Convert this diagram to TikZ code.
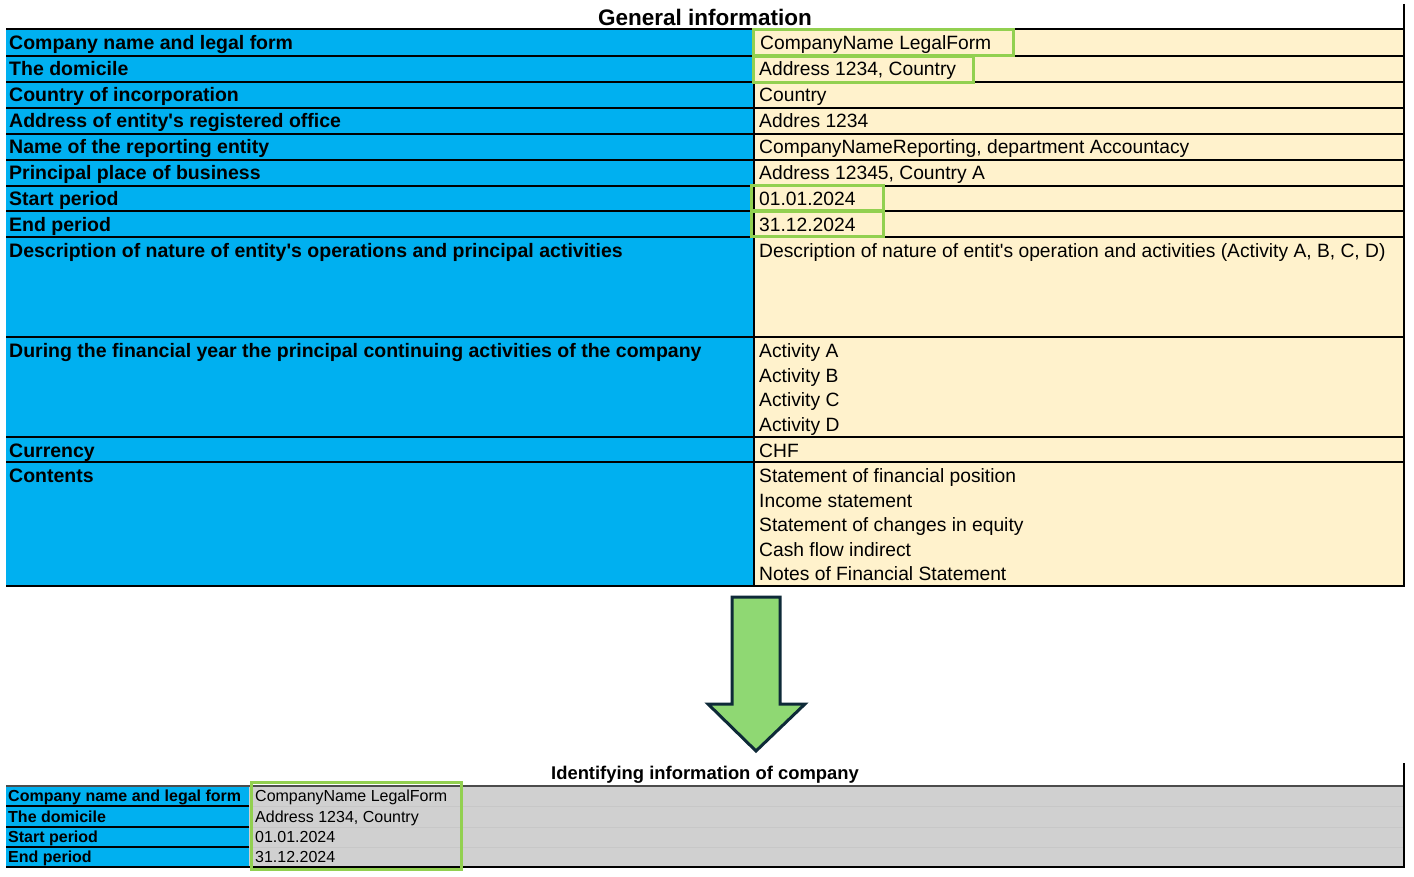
\documentclass[tikz,border=0pt]{standalone}
\usepackage{fontspec}
\setmainfont{Liberation Sans}[Ligatures=TeXOff]
\definecolor{cblue}{HTML}{00B0F0}
\definecolor{ccream}{HTML}{FFF2CC}
\definecolor{cgray}{HTML}{D0D0D0}
\definecolor{cgreen}{HTML}{92D050}
\definecolor{afill}{HTML}{8FD873}
\definecolor{aline}{HTML}{0E2A38}
\begin{document}
\begin{tikzpicture}[x=1pt,y=-1pt,
  grid/.style={draw=black,line width=2pt},
  lbl/.style={anchor=base west,inner sep=0pt,font=\bfseries\fontsize{19.5}{22}\selectfont},
  val/.style={anchor=base west,inner sep=0pt,font=\fontsize{19.25}{22}\selectfont},
  slbl/.style={anchor=base west,inner sep=0pt,font=\bfseries\fontsize{16}{18}\selectfont},
  sval/.style={anchor=base west,inner sep=0pt,font=\fontsize{16}{18}\selectfont},
  ttl/.style={inner sep=0pt,font=\bfseries\fontsize{22.5}{26}\selectfont},
  sttl/.style={inner sep=0pt,font=\bfseries\fontsize{18.4}{21}\selectfont},
  hl/.style={draw=cgreen,line width=3pt}]
\useasboundingbox (0,0) rectangle (1414,877);
\fill[white] (0,0) rectangle (1414,877);
% ---------- top table ----------
\node[ttl] (title) at (705,17) {General information};
\fill[cblue] (6,29) rectangle (754,586);
\fill[ccream] (754,29) rectangle (1404,586);
\foreach \y in {29,56,82,108,134,160,186,211,237,337,437,462,586}
  \draw[grid] (6,\y) -- (1405,\y);
\draw[grid] (754,29) -- (754,586);
\draw[grid] (1404,4) -- (1404,587);
% labels
\node[lbl] (l1) at (9,49.5) {Company name and legal form};
\node[lbl] (l2) at (9,76) {The domicile};
\node[lbl] (l3) at (9,102) {Country of incorporation};
\node[lbl] (l4) at (9,128) {Address of entity's registered office};
\node[lbl] (l5) at (9,154) {Name of the reporting entity};
\node[lbl] (l6) at (9,180) {Principal place of business};
\node[lbl] (l7) at (9,205.5) {Start period};
\node[lbl] (l8) at (9,231.5) {End period};
\node[lbl] (l9) at (9,257.5) {Description of nature of entity's operations and principal activities};
\node[lbl] (l10) at (9,357.5) {During the financial year the principal continuing activities of the company};
\node[lbl] (l11) at (9,457) {Currency};
\node[lbl] (l12) at (9,482.5) {Contents};
% values
\node[val] (v1) at (760,49.5) {CompanyName LegalForm};
\node[val] (v2) at (759,76) {Address 1234, Country};
\node[val] (v3) at (759,102) {Country};
\node[val] (v4) at (759,128) {Addres 1234};
\node[val] (v5) at (759,154) {CompanyNameReporting, department Accountacy};
\node[val] (v6) at (759,180) {Address 12345, Country A};
\node[val] (v7) at (759,205.5) {01.01.2024};
\node[val] (v8) at (759,231.5) {31.12.2024};
\node[val] (v9) at (759,257.5) {Description of nature of entit's operation and activities (Activity A, B, C, D)};
\node[val] (v10a) at (759,357.5) {Activity A};
\node[val] (v10b) at (759,382) {Activity B};
\node[val] (v10c) at (759,406.5) {Activity C};
\node[val] (v10d) at (759,431) {Activity D};
\node[val] (v11) at (759,457) {CHF};
\node[val] (v12a) at (759,482.5) {Statement of financial position};
\node[val] (v12b) at (759,507) {Income statement};
\node[val] (v12c) at (759,531.5) {Statement of changes in equity};
\node[val] (v12d) at (759,556) {Cash flow indirect};
\node[val] (v12e) at (759,580.5) {Notes of Financial Statement};
% highlights
\draw[hl] (753,30) rectangle (1013,56);
\draw[hl] (753,57) rectangle (973,83);
\draw[hl] (751,186) rectangle (883,211);
\draw[hl] (751,212) rectangle (883,237);
% ---------- arrow ----------
\draw[fill=afill,draw=aline,line width=3pt,line join=miter]
  (732,597) -- (780,597) -- (780,704) -- (805,704) -- (756,751) -- (708,704) -- (732,704) -- cycle;
% ---------- bottom table ----------
\node[sttl] (title2) at (705,774.5) {Identifying information of company};
\fill[cblue] (6,786) rectangle (249,867);
\fill[cgray] (249,786) rectangle (1404,867);
\foreach \y in {806,827,847} {
  \draw[black,line width=1.5pt] (6,\y) -- (249,\y);
  \draw[black!22,line width=1pt] (249,\y) -- (1404,\y);
}
\draw[black!70,line width=1.5pt] (6,786) -- (1405,786);
\draw[black,line width=1.5pt] (6,867) -- (1405,867);
\draw[black,line width=1.5pt] (1404,763) -- (1404,868);
\node[slbl] (b1) at (8,801.5) {Company name and legal form};
\node[slbl] (b2) at (8,822) {The domicile};
\node[slbl] (b3) at (8,842.5) {Start period};
\node[slbl] (b4) at (8,862.5) {End period};
\node[sval] (c1) at (255,801.5) {CompanyName LegalForm};
\node[sval] (c2) at (255,822) {Address 1234, Country};
\node[sval] (c3) at (255,842.5) {01.01.2024};
\node[sval] (c4) at (255,862.5) {31.12.2024};
\draw[hl] (251,782) rectangle (461,869);
\end{tikzpicture}
\end{document}
